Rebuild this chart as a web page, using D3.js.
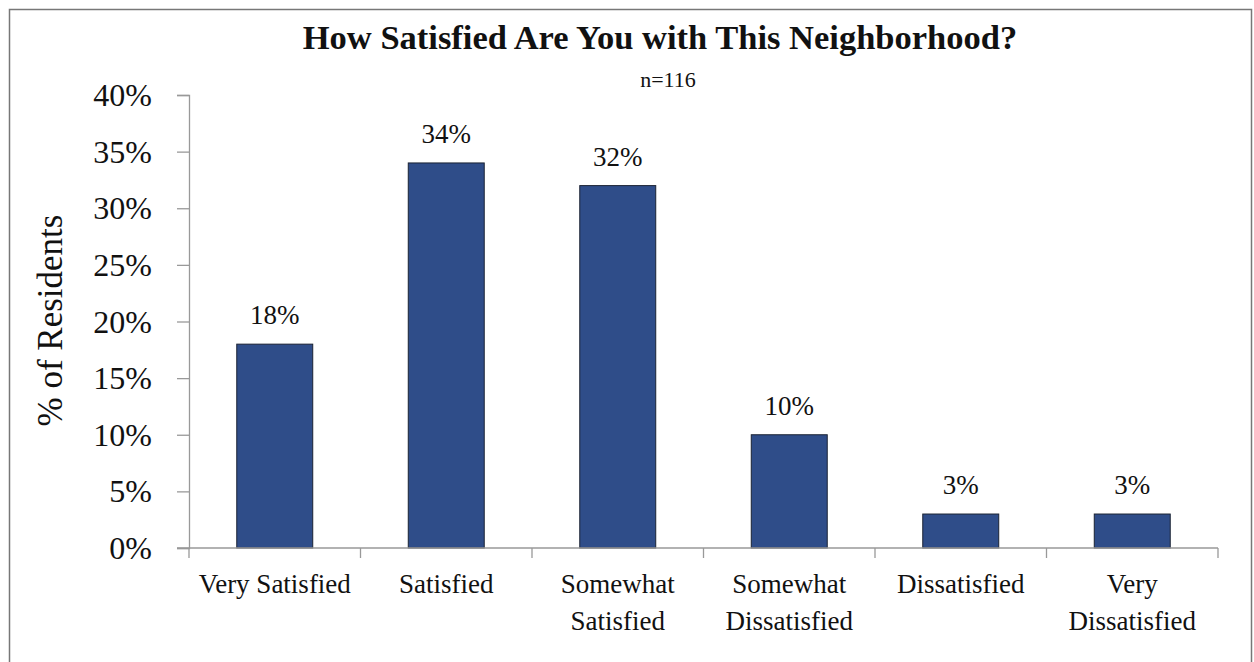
<!DOCTYPE html>
<html>
<head>
<meta charset="utf-8">
<script src="https://cdn.jsdelivr.net/npm/d3@7"></script>
<style>
  html, body { margin: 0; padding: 0; background: #fff; }
  svg { display: block; }
  svg text { font-family: "Liberation Serif", "DejaVu Serif", serif !important; fill: #111; }
</style>
</head>
<body>
<svg id="chart" width="1254" height="662"></svg>
<script>
// Survey responses: share of residents per satisfaction level
const categories = [
  ["Very Satisfied"],
  ["Satisfied"],
  ["Somewhat", "Satisfied"],
  ["Somewhat", "Dissatisfied"],
  ["Dissatisfied"],
  ["Very", "Dissatisfied"]
];
const values = [18, 34, 32, 10, 3, 3];
const yTicks = [0, 5, 10, 15, 20, 25, 30, 35, 40];
const titleText = "How Satisfied Are You with This Neighborhood?";
const subtitleText = "n=116";
const yAxisTitle = "% of Residents";

const svg = d3.select("#chart");
const W = 1254, H = 662;
const margin = { left: 189, right: 36, top: 95, bottom: 114 };
const innerW = W - margin.left - margin.right;
const innerH = H - margin.top - margin.bottom;

// Outer frame
svg.append("rect")
  .attr("x", 9.5).attr("y", 9.5)
  .attr("width", W - 12).attr("height", H + 20)
  .attr("fill", "none").attr("stroke", "#777").attr("stroke-width", 1.5);

const keys = categories.map(c => c.join(" "));
const x = d3.scaleBand().domain(keys).range([0, innerW]).paddingInner(0.557).paddingOuter(0.2785);
const y = d3.scaleLinear().domain([0, 40]).range([innerH, 0]);

const g = svg.append("g").attr("transform", `translate(${margin.left},${margin.top})`);

// Bars
g.selectAll("rect.bar").data(values).join("rect")
  .attr("class", "bar")
  .attr("x", (d, i) => x(keys[i]))
  .attr("y", d => y(d))
  .attr("width", x.bandwidth())
  .attr("height", d => innerH - y(d))
  .attr("fill", "#2F4D89")
  .attr("stroke", "#1b2333")
  .attr("stroke-width", 1);

// Value labels
g.selectAll("text.val").data(values).join("text")
  .attr("class", "val")
  .attr("x", (d, i) => x(keys[i]) + x.bandwidth() / 2)
  .attr("y", d => y(d) - 20)
  .attr("text-anchor", "middle")
  .attr("font-size", 27)
  .text(d => d + "%");

// Y axis
const yAxis = d3.axisLeft(y).tickValues(yTicks).tickFormat(d => d + "%").tickSize(12).tickPadding(25);
const yg = g.append("g").call(yAxis);
yg.select(".domain").attr("stroke", "#999").attr("stroke-width", 1.3);
yg.selectAll(".tick line").attr("stroke", "#999").attr("stroke-width", 1.3);
yg.selectAll(".tick text")
  .attr("font-size", 32)
  .attr("fill", "#111")
  .attr("dy", "0.33em");

// X axis: baseline with ticks at category boundaries
const xg = g.append("g").attr("transform", `translate(0,${innerH})`);
xg.append("line")
  .attr("x1", -12).attr("x2", innerW)
  .attr("stroke", "#999").attr("stroke-width", 1.3);
const step = x.step();
const boundaries = d3.range(categories.length + 1).map(i => i * step);
xg.selectAll("line.bt").data(boundaries).join("line")
  .attr("class", "bt")
  .attr("x1", d => d).attr("x2", d => d)
  .attr("y1", 0).attr("y2", 10)
  .attr("stroke", "#999").attr("stroke-width", 1.3);

// Category labels (possibly two lines)
const xl = xg.selectAll("text.cat").data(categories).join("text")
  .attr("class", "cat")
  .attr("text-anchor", "middle")
  .attr("font-size", 27)
  .attr("transform", (d, i) => `translate(${x(keys[i]) + x.bandwidth() / 2},45)`);
xl.selectAll("tspan").data(d => d).join("tspan")
  .attr("x", 0)
  .attr("dy", (d, i) => i === 0 ? 0 : 37)
  .text(d => d);

// Y axis title
svg.append("text")
  .attr("transform", `translate(62,${margin.top + innerH / 2 - 1}) rotate(-90)`)
  .attr("text-anchor", "middle")
  .attr("font-size", 35)
  .text(yAxisTitle);

// Title and sample size
svg.append("text")
  .attr("x", 660).attr("y", 49)
  .attr("text-anchor", "middle")
  .attr("font-size", 34.5)
  .attr("font-weight", "bold")
  .text(titleText);
svg.append("text")
  .attr("x", 668).attr("y", 87)
  .attr("text-anchor", "middle")
  .attr("font-size", 22)
  .text(subtitleText);
</script>
</body>
</html>
